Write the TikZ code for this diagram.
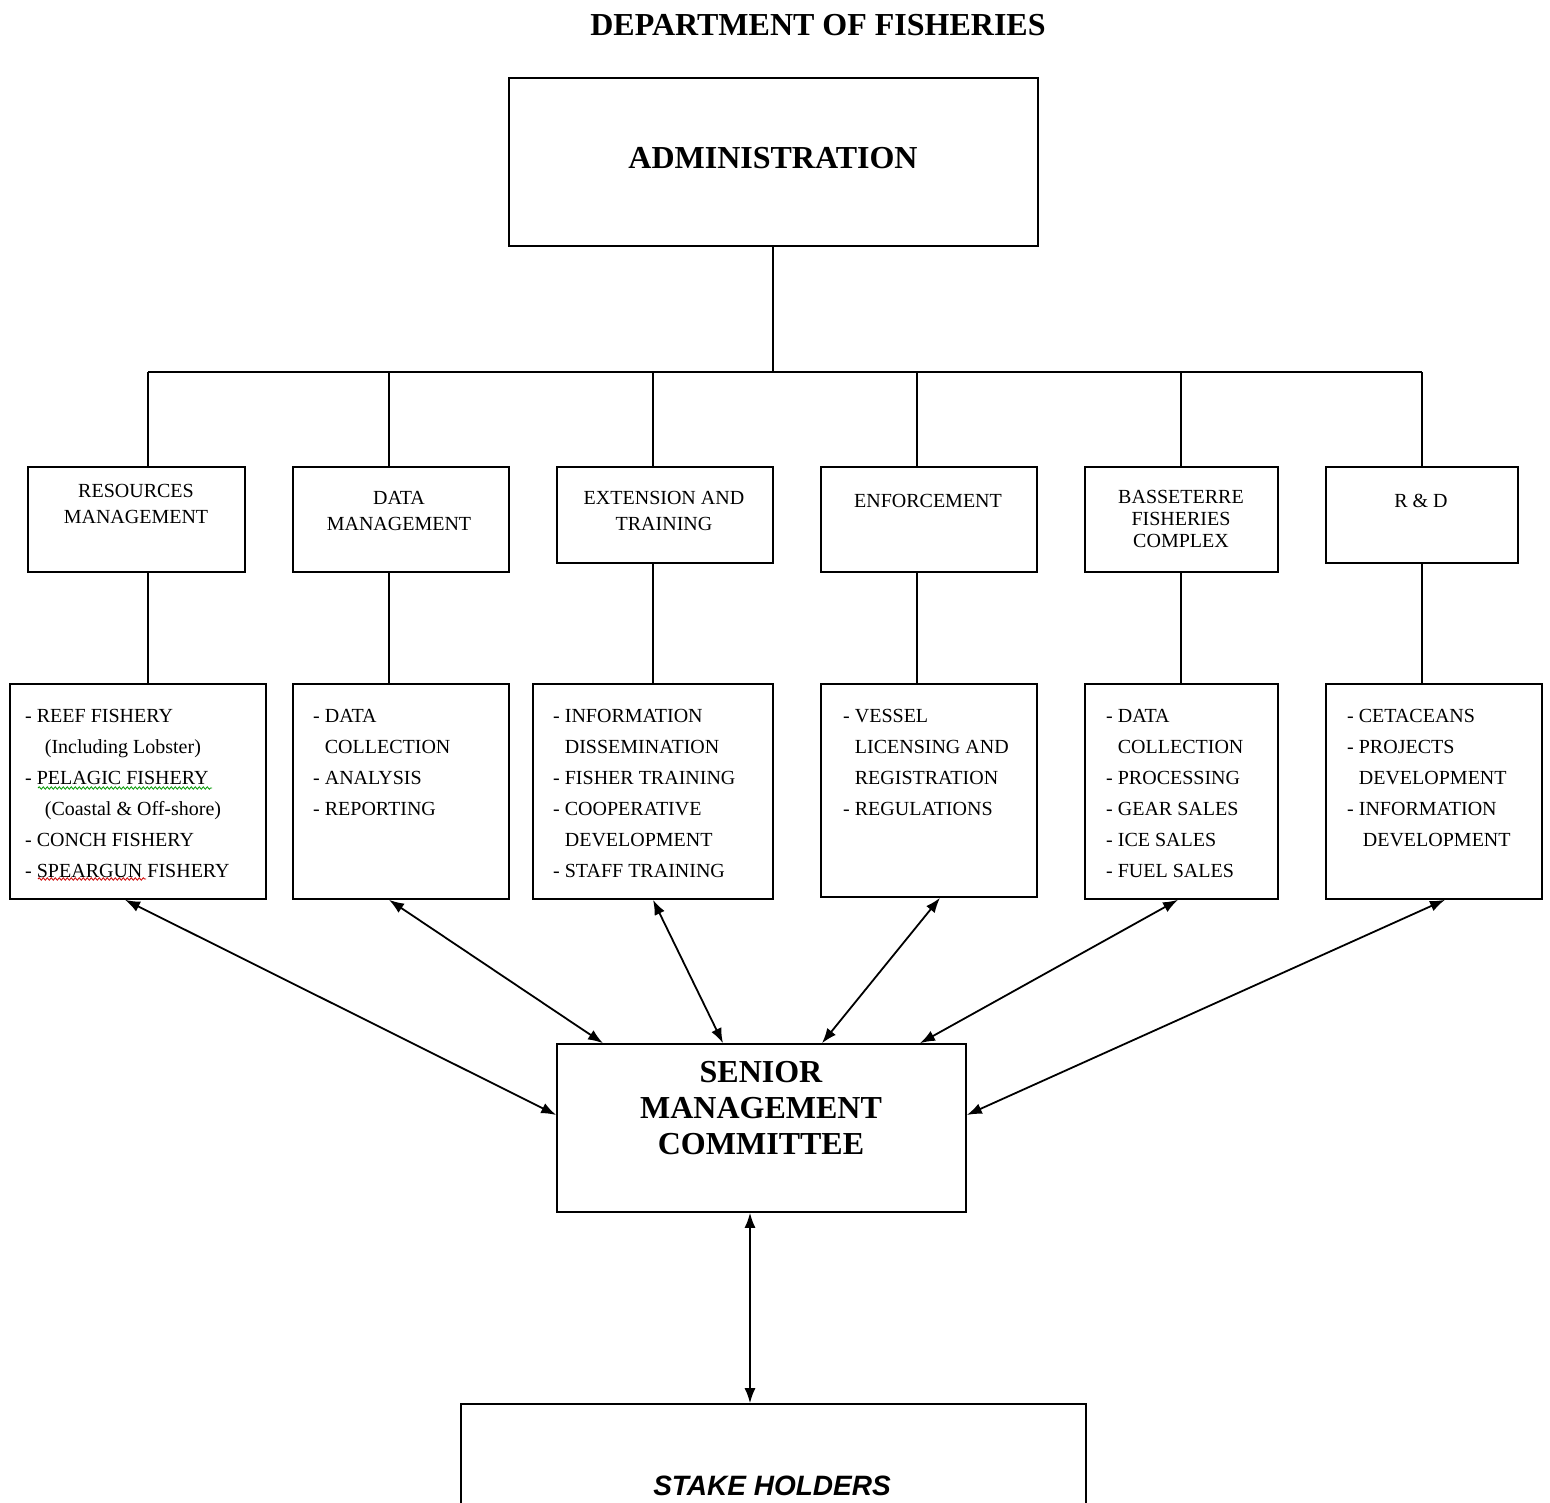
\documentclass[tikz,border=0pt]{standalone}
\usepackage{fontspec}
\setmainfont{Liberation Serif}
\newfontfamily\shfont{Liberation Sans}
\usetikzlibrary{arrows.meta,decorations.pathmorphing}
\begin{document}
\begin{tikzpicture}[x=1pt,y=-1pt,
  box/.style={draw, line width=1.6pt, rectangle, inner sep=0pt},
  conn/.style={line width=1.6pt},
  arr/.style={line width=1.8pt, {Latex[length=15pt,width=11pt]}-{Latex[length=15pt,width=11pt]}},
  mid/.style={align=center, font=\fontsize{20}{26}\selectfont, inner sep=0pt},
  lst/.style={align=left, anchor=north west, font=\fontsize{20}{31}\selectfont, inner sep=0pt},
  big/.style={font=\fontsize{32}{36}\selectfont\bfseries, align=center, inner sep=0pt}]
\useasboundingbox (0,0) rectangle (1550,1502);
\clip (0,0) rectangle (1550,1502);
\fill[white] (0,0) rectangle (1550,1502);

% title
\node[big] (title) at (818,25) {DEPARTMENT OF FISHERIES};

% administration
\node[box, minimum width=529pt, minimum height=168pt] (adm) at (773.5,162) {};
\node[big] (admt) at (773,158) {ADMINISTRATION};

% middle boxes
\node[box, minimum width=217pt, minimum height=105pt] (rm)  at (136.5,519.5) {};
\node[box, minimum width=216pt, minimum height=105pt] (dm)  at (401,519.5) {};
\node[box, minimum width=216pt, minimum height=96pt]  (et)  at (665,515) {};
\node[box, minimum width=216pt, minimum height=105pt] (enf) at (929,519.5) {};
\node[box, minimum width=193pt, minimum height=105pt] (bfc) at (1181.5,519.5) {};
\node[box, minimum width=192pt, minimum height=96pt]  (rd)  at (1422,515) {};

\node[mid] (rmt)  at (136,504)  {RESOURCES\\MANAGEMENT};
\node[mid] (dmt)  at (399,511)  {DATA\\MANAGEMENT};
\node[mid] (ett)  at (664,511)  {EXTENSION AND\\TRAINING};
\node[mid] (enft) at (928,501)  {ENFORCEMENT};
\node[mid, font=\fontsize{20}{22}\selectfont] (bfct) at (1181,519) {BASSETERRE\\FISHERIES\\COMPLEX};
\node[mid] (rdt)  at (1421,501) {R \& D};

% lower boxes
\node[box, minimum width=256pt, minimum height=215pt] (rml)  at (138,791.5) {};
\node[box, minimum width=216pt, minimum height=215pt] (dml)  at (401,791.5) {};
\node[box, minimum width=240pt, minimum height=215pt] (etl)  at (653,791.5) {};
\node[box, minimum width=216pt, minimum height=213pt] (enfl) at (929,790.5) {};
\node[box, minimum width=193pt, minimum height=215pt] (bfcl) at (1181.5,791.5) {};
\node[box, minimum width=216pt, minimum height=215pt] (rdl)  at (1434,791.5) {};

\node[lst] (rmlt) at (25,709) {- REEF FISHERY\\\phantom{- }\hspace{8pt}(Including Lobster)\\- PELAGIC FISHERY\\\phantom{- }\hspace{8pt}(Coastal \& Off-shore)\\- CONCH FISHERY\\- SPEARGUN FISHERY};
\node[lst] (dmlt) at (313,709) {- DATA\\\phantom{- }COLLECTION\\- ANALYSIS\\- REPORTING};
\node[lst] (etlt) at (553,709) {- INFORMATION\\\phantom{- }DISSEMINATION\\- FISHER TRAINING\\- COOPERATIVE\\\phantom{- }DEVELOPMENT\\- STAFF TRAINING};
\node[lst] (enflt) at (843,709) {- VESSEL\\\phantom{- }LICENSING AND\\\phantom{- }REGISTRATION\\- REGULATIONS};
\node[lst] (bfclt) at (1106,709) {- DATA\\\phantom{- }COLLECTION\\- PROCESSING\\- GEAR SALES\\- ICE SALES\\- FUEL SALES};
\node[lst] (rdlt) at (1347,709) {- CETACEANS\\- PROJECTS\\\phantom{- }DEVELOPMENT\\- INFORMATION\\\phantom{- }\hspace{4pt}DEVELOPMENT};

% spell-check squiggles
\draw[green!60!black, line width=0.8pt, decorate, decoration={snake, amplitude=1.2pt, segment length=4pt}] (38,788) -- (212,788);
\draw[red!80!black, line width=0.8pt, decorate, decoration={snake, amplitude=1.2pt, segment length=4pt}] (38,879) -- (146,879);

% senior management committee
\node[box, minimum width=409pt, minimum height=168pt] (smc) at (761.5,1128) {};
\node[big] (smct) at (761,1108) {SENIOR\\MANAGEMENT\\COMMITTEE};

% stake holders
\node[box, minimum width=625pt, minimum height=170pt] (sh) at (773.5,1489) {};
\node[font=\shfont\fontsize{28}{32}\selectfont\bfseries\itshape, inner sep=0pt] (sht) at (772,1486) {STAKE HOLDERS};

% tree connectors
\coordinate (bus) at (773,372);
\coordinate (b1) at (148,372);
\coordinate (b2) at (389,372);
\coordinate (b3) at (653,372);
\coordinate (b4) at (917,372);
\coordinate (b5) at (1181,372);
\coordinate (b6) at (1422,372);
\draw[conn] (bus |- adm.south) -- (bus);
\draw[conn] (b1) -- (b6);
\draw[conn] (b1) -- (b1 |- rm.north);
\draw[conn] (b2) -- (b2 |- dm.north);
\draw[conn] (b3) -- (b3 |- et.north);
\draw[conn] (b4) -- (b4 |- enf.north);
\draw[conn] (b5) -- (b5 |- bfc.north);
\draw[conn] (b6) -- (b6 |- rd.north);
\draw[conn] (b1 |- rm.south) -- (b1 |- rml.north);
\draw[conn] (b2 |- dm.south) -- (b2 |- dml.north);
\draw[conn] (b3 |- et.south) -- (b3 |- etl.north);
\draw[conn] (b4 |- enf.south) -- (b4 |- enfl.north);
\draw[conn] (b5 |- bfc.south) -- (b5 |- bfcl.north);
\draw[conn] (b6 |- rd.south) -- (b6 |- rdl.north);

% arrows
\draw[arr] ([xshift=-13pt]rml.south) -- ([yshift=13pt]smc.west);
\draw[arr] ([xshift=-12pt]dml.south) -- ([xshift=-158.5pt]smc.north);
\draw[arr] (etl.south) -- ([xshift=-38.5pt]smc.north);
\draw[arr] ([xshift=11pt]enfl.south) -- ([xshift=60.5pt]smc.north);
\draw[arr] ([xshift=-3.5pt]bfcl.south) -- ([xshift=158.5pt]smc.north);
\draw[arr] ([xshift=11pt]rdl.south) -- ([yshift=13pt]smc.east);
\draw[arr] ([xshift=-11.5pt]smc.south) -- ([xshift=-23.5pt]sh.north);
\end{tikzpicture}
\end{document}
